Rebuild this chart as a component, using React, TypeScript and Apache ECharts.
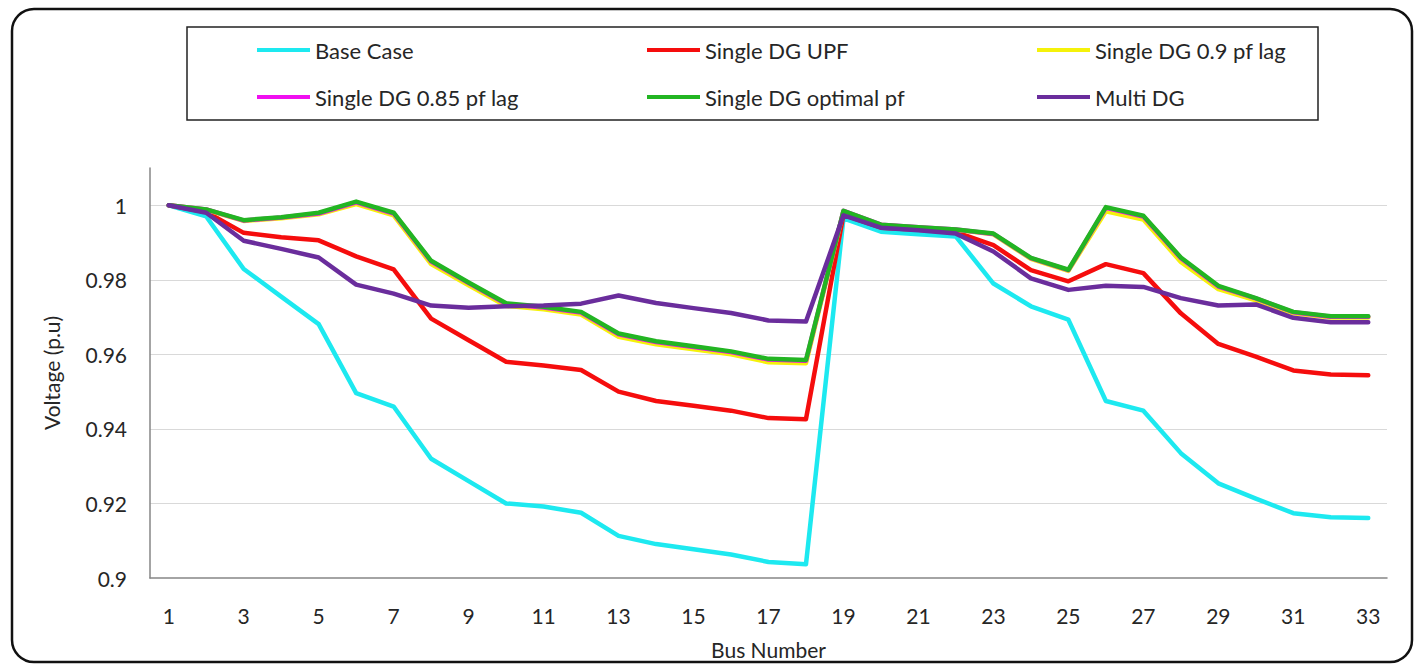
import React, { useEffect, useRef } from "react";
import * as echarts from "echarts";

const buses = Array.from({ length: 33 }, (_, i) => String(i + 1));

const baseCase = [1.0, 0.997, 0.9829, 0.9755, 0.9681, 0.9496, 0.946, 0.932, 0.926, 0.92, 0.9192, 0.9175, 0.9113, 0.9091, 0.9077, 0.9063, 0.9043, 0.9037, 0.9965, 0.9929, 0.9922, 0.9916, 0.979, 0.9729, 0.9693, 0.9475, 0.9449, 0.9335, 0.9254, 0.9213, 0.9174, 0.9163, 0.9161];
const singleUPF = [1.0, 0.9982, 0.9926, 0.9914, 0.9906, 0.9863, 0.9828, 0.9696, 0.9638, 0.958, 0.957, 0.9558, 0.95, 0.9475, 0.9462, 0.9449, 0.9429, 0.9426, 0.9975, 0.994, 0.9934, 0.9928, 0.9893, 0.9826, 0.9796, 0.9842, 0.9818, 0.971, 0.9628, 0.9594, 0.9557, 0.9546, 0.9544];
const single09 = [1.0, 0.9988, 0.9958, 0.9965, 0.9976, 1.0003, 0.9973, 0.9842, 0.9785, 0.973, 0.9721, 0.9707, 0.9647, 0.9627, 0.9614, 0.96, 0.9579, 0.9576, 0.9984, 0.9947, 0.994, 0.9934, 0.9922, 0.9856, 0.9824, 0.9984, 0.9962, 0.9848, 0.9775, 0.9745, 0.971, 0.9699, 0.9699];
const single085 = [1.0, 0.9989, 0.9959, 0.9967, 0.9978, 1.0008, 0.9978, 0.9849, 0.9791, 0.9735, 0.9726, 0.9712, 0.9654, 0.9633, 0.962, 0.9606, 0.9586, 0.9583, 0.9985, 0.9948, 0.9941, 0.9935, 0.9923, 0.9858, 0.9826, 0.9993, 0.997, 0.9858, 0.9782, 0.975, 0.9713, 0.9701, 0.9701];
const singleOpt = [1.0, 0.9989, 0.996, 0.9968, 0.998, 1.001, 0.998, 0.9851, 0.9793, 0.9737, 0.9728, 0.9714, 0.9656, 0.9635, 0.9622, 0.9608, 0.9588, 0.9585, 0.9985, 0.9948, 0.9941, 0.9935, 0.9924, 0.9859, 0.9827, 0.9995, 0.9972, 0.986, 0.9784, 0.9751, 0.9714, 0.9702, 0.9702];
const multiDG = [1.0, 0.998, 0.9905, 0.9883, 0.986, 0.9787, 0.9763, 0.9731, 0.9725, 0.9729, 0.9731, 0.9736, 0.9758, 0.9738, 0.9724, 0.9711, 0.9691, 0.9688, 0.9973, 0.994, 0.9933, 0.9924, 0.9876, 0.9804, 0.9773, 0.9784, 0.9781, 0.9751, 0.9731, 0.9734, 0.9698, 0.9686, 0.9686];

const seriesNames = ["Base Case", "Single DG UPF", "Single DG 0.9 pf lag", "Single DG 0.85 pf lag", "Single DG optimal pf", "Multi DG"];
const seriesData = [baseCase, singleUPF, single09, single085, singleOpt, multiDG];
const seriesColors = ["#1de9f0", "#f50d0d", "#f5f20a", "#f00ff0", "#22b522", "#6a2d9c"];

const yMin = 0.9;
const yMax = 1.01;
const yInterval = 0.02;

const FONT = "Lato, 'Open Sans', sans-serif";
const TEXT = "#262626";

export default function App() {
  const ref = useRef<HTMLDivElement>(null);
  useEffect(() => {
    if (!ref.current) return;
    const chart = echarts.init(ref.current, undefined, { renderer: "svg" });
    const legendPos = [
      [257, 38], [647, 38], [1037, 38],
      [257, 85], [647, 85], [1037, 85],
    ];
    const legends = seriesNames.map((n, i) => ({
      data: [n],
      left: legendPos[i][0],
      top: legendPos[i][1],
      padding: 0,
      icon: "rect",
      itemWidth: 53,
      itemHeight: 4,
      selectedMode: false,
      textStyle: { fontSize: 22, fontFamily: FONT, color: TEXT, lineHeight: 24 },
    }));
    chart.setOption({
      animation: false,
      backgroundColor: "#ffffff",
      legend: legends,
      grid: { left: 150, right: 35, top: 168, bottom: 86, containLabel: false },
      xAxis: {
        type: "category",
        data: buses,
        boundaryGap: true,
        name: "Bus Number",
        nameLocation: "middle",
        nameGap: 61,
        nameTextStyle: { fontSize: 21, fontFamily: FONT, color: TEXT },
        axisLine: { show: true, lineStyle: { color: "#868686", width: 1.5 } },
        axisTick: { show: false },
        axisLabel: { interval: 1, margin: 27, fontSize: 21, fontFamily: FONT, color: TEXT },
        splitLine: { show: false },
      },
      yAxis: {
        type: "value",
        min: yMin,
        max: yMax,
        interval: yInterval,
        name: "Voltage (p.u)",
        nameLocation: "middle",
        nameGap: 88,
        nameTextStyle: { fontSize: 21, fontFamily: FONT, color: TEXT },
        axisLine: { show: true, lineStyle: { color: "#868686", width: 1.5 } },
        axisTick: { show: false },
        axisLabel: {
          margin: 23,
          showMaxLabel: false,
          fontSize: 21,
          fontFamily: FONT,
          color: TEXT,
          formatter: (v: number) => String(Math.round(v * 1000) / 1000),
        },
        splitLine: { show: true, showMaxLine: false, showMinLine: false, lineStyle: { color: "#d9d9d9", width: 1.2 } },
      },
      series: seriesNames.map((n, i) => ({
        name: n,
        type: "line",
        data: seriesData[i],
        symbol: "none",
        color: seriesColors[i],
        lineStyle: { color: seriesColors[i], width: 4.5, cap: "round", join: "round" },
        z: 2 + i,
      })),
      graphic: [
        {
          type: "rect",
          shape: { x: 12, y: 9, width: 1400, height: 653, r: 22 },
          style: { fill: "none", stroke: "#111", lineWidth: 2.5 },
          silent: true,
          z: 0,
        },
        {
          type: "rect",
          shape: { x: 187, y: 27, width: 1131, height: 93 },
          style: { fill: "none", stroke: "#222", lineWidth: 1.5 },
          silent: true,
          z: 0,
        },
      ],
    });
    return () => chart.dispose();
  }, []);
  return (
    <div
      ref={ref}
      style={{ position: "absolute", left: 0, top: 0, width: 1422, height: 665, background: "#fff" }}
    />
  );
}
